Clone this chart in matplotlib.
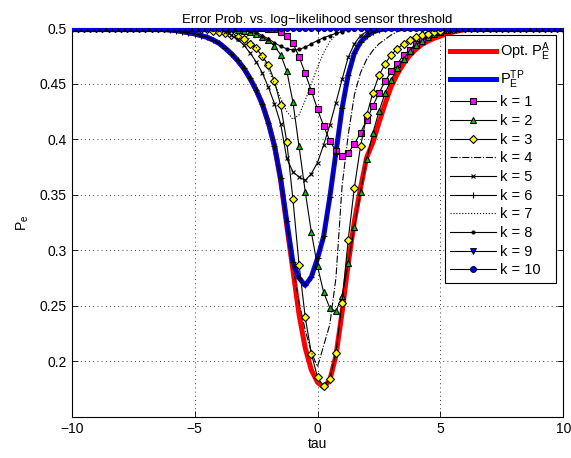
import numpy as np
import matplotlib
matplotlib.use("Agg")
import matplotlib.pyplot as plt

plt.rcParams['font.family'] = ['Liberation Sans', 'DejaVu Sans']
plt.rcParams['mathtext.fontset'] = 'custom'
plt.rcParams['mathtext.rm'] = 'Liberation Sans'
plt.rcParams['mathtext.it'] = 'Liberation Sans'

tau = np.arange(-10, 10.001, 0.25)

pe_opt = [0.5]*14 + [0.4995, 0.499, 0.4985, 0.498, 0.497, 0.496, 0.495, 0.4935, 0.492, 0.4895,
                     0.4865, 0.482, 0.477, 0.471, 0.464, 0.455, 0.4445, 0.432, 0.415, 0.394, 0.363,
                     0.322, 0.282, 0.242, 0.212, 0.192, 0.181, 0.1765, 0.183, 0.205, 0.244,
                     0.288, 0.326, 0.356, 0.3835, 0.397, 0.415, 0.432, 0.4475, 0.459, 0.468,
                     0.4755, 0.481, 0.4855, 0.4885, 0.491, 0.493, 0.495, 0.4965, 0.4978, 0.4988,
                     0.4995] + [0.5]*15

pe_tp = [0.5]*14 + [0.4995, 0.499, 0.4985, 0.498, 0.497, 0.496, 0.495, 0.4935, 0.492, 0.4895,
                    0.4865, 0.482, 0.477, 0.471, 0.464, 0.455, 0.4445, 0.432, 0.415, 0.394, 0.365,
                    0.326, 0.289, 0.275, 0.2683, 0.276, 0.2927, 0.3125, 0.3477, 0.388, 0.428,
                    0.458, 0.4777, 0.4876, 0.493, 0.4967, 0.4985, 0.4995] + [0.5]*29

k1 = [0.5]*32 + [0.4995, 0.499, 0.497, 0.493, 0.4865, 0.4744, 0.4594, 0.4437, 0.427, 0.412,
                 0.3986, 0.3895, 0.385, 0.3877, 0.3956, 0.4058, 0.4172, 0.430, 0.4416, 0.4522,
                 0.4612, 0.468, 0.4756, 0.4804, 0.4861, 0.4906, 0.494, 0.4965, 0.498, 0.499,
                 0.4995] + [0.5]*18

k2 = [0.5]*25 + [0.4995, 0.499, 0.4985, 0.498, 0.497, 0.495, 0.4919, 0.4892, 0.484, 0.4762,
                 0.4616, 0.4335, 0.3935, 0.3529, 0.3162, 0.2855, 0.262, 0.248, 0.2449, 0.2587,
                 0.2882, 0.3209, 0.3529, 0.3818, 0.4055, 0.4251, 0.4416, 0.4536, 0.4642, 0.4726,
                 0.4795, 0.485, 0.489, 0.4925, 0.495, 0.497, 0.4985, 0.4995] + [0.5]*18

k3 = [0.5]*21 + [0.4995, 0.499, 0.498, 0.497, 0.4955, 0.494, 0.4925, 0.4901, 0.4858, 0.482,
                 0.475, 0.4669, 0.4524, 0.4308, 0.3977, 0.3459, 0.287, 0.2397, 0.2067, 0.1856,
                 0.1774, 0.1841, 0.2076, 0.2527, 0.3096, 0.3565, 0.3935, 0.4215, 0.4419, 0.4576,
                 0.468, 0.4762, 0.4816, 0.4861, 0.4892, 0.4921, 0.4937, 0.495, 0.497, 0.498,
                 0.499, 0.4995] + [0.5]*18

k4 = [0.5]*14 + [0.4995, 0.499, 0.4985, 0.498, 0.497, 0.496, 0.495, 0.4935, 0.492, 0.4895,
                 0.4865, 0.482, 0.477, 0.471, 0.464, 0.455, 0.4445, 0.432, 0.415, 0.394, 0.364,
                 0.324, 0.285, 0.253, 0.228, 0.208, 0.195, 0.214, 0.233, 0.275, 0.358,
                 0.404, 0.44, 0.46, 0.472, 0.48, 0.486, 0.49, 0.494, 0.497, 0.4985,
                 0.4995] + [0.5]*25

k5 = [0.5]*23 + [0.4995, 0.4985, 0.497, 0.494, 0.49, 0.485, 0.478, 0.47, 0.46, 0.447,
                 0.432, 0.414, 0.3827, 0.3706, 0.366, 0.363, 0.369, 0.379, 0.395, 0.4127,
                 0.433, 0.454, 0.474, 0.486, 0.4935, 0.497, 0.499, 0.4995] + [0.5]*30

k6 = list(pe_tp)

k7 = [0.5]*26 + [0.4995, 0.498, 0.495, 0.49, 0.483, 0.474, 0.463, 0.45, 0.437, 0.425,
                 0.418, 0.422, 0.435, 0.45, 0.465, 0.478, 0.488, 0.494, 0.498, 0.4995] + [0.5]*35

k8 = [0.5]*28 + [0.4995, 0.498, 0.4965, 0.4935, 0.4905, 0.487, 0.4838, 0.4815, 0.4805, 0.481,
                 0.483, 0.486, 0.489, 0.4915, 0.4935, 0.4955, 0.497, 0.4985, 0.4995] + [0.5]*34

k9 = [0.5]*81
k10 = [0.5]*81

fig = plt.figure(figsize=(5.71, 4.58), dpi=100)
ax = fig.add_axes([0.1256, 0.0902, 0.8609, 0.848])

ax.plot(tau, pe_opt, color='#ff0000', lw=3.6, label=r'Opt. P$_E^A$', zorder=2)
ax.plot(tau, pe_tp, color='#0000ff', lw=3.6, label=r'P$_E^{TP}$', zorder=2)

lk = dict(color='k', lw=0.8, zorder=3)
ax.plot(tau, k1, marker='s', ms=4.3, mfc='#ff00ff', mec='k', mew=0.8, label='k = 1', **lk)
ax.plot(tau, k2, marker='^', ms=4.6, mfc='#00c000', mec='k', mew=0.8, label='k = 2', **lk)
ax.plot(tau, k3, marker='D', ms=4.3, mfc='#ffff00', mec='k', mew=0.8, label='k = 3', **lk)
ax.plot(tau, k4, ls='-.', label='k = 4', **lk)
ax.plot(tau, k5, marker='x', ms=3, mew=0.8, label='k = 5', **lk)
ax.plot(tau, k6, marker='+', ms=4, mew=0.8, label='k = 6', **lk)
ax.plot(tau, k7, ls=':', label='k = 7', **lk)
ax.plot(tau, k8, marker='.', ms=4, label='k = 8', **lk)
ax.plot(tau, k9, marker='v', ms=4.3, mfc='#0000ff', mec='k', mew=0.6, label='k = 9', **lk)
ax.plot(tau, k10, marker='o', ms=4.3, mfc='#0000ff', mec='k', mew=0.6, label='k = 10', **lk)

ax.set_xlim(-10, 10)
ax.set_ylim(0.15, 0.5)
ax.set_xticks([-10, -5, 0, 5, 10])
ax.set_xticklabels(['\u221210', '\u22125', '0', '5', '10'])
ax.set_yticks([0.2, 0.25, 0.3, 0.35, 0.4, 0.45, 0.5])
ax.set_yticklabels(['0.2', '0.25', '0.3', '0.35', '0.4', '0.45', '0.5'])
ax.tick_params(direction='in', top=True, right=True, labelsize=10, length=4, width=0.6)
ax.grid(True, ls=(0, (1, 4)), color='k', lw=0.6)
for s in ax.spines.values():
    s.set_linewidth(0.8)

ax.set_title('Error Prob. vs. log\u2212likelihood sensor threshold', fontsize=9.5, pad=4)
ax.set_xlabel('tau', fontsize=10, labelpad=1)
ax.set_ylabel(r'P$_e$', fontsize=10, labelpad=6)

leg = ax.legend(loc='upper right', bbox_to_anchor=(0.9855, 0.9827), fontsize=10.5,
                frameon=True, fancybox=False, edgecolor='k', framealpha=1,
                handlelength=3.1, handletextpad=0.3, labelspacing=0.32, borderpad=0.4,
                borderaxespad=0)
leg.get_frame().set_linewidth(0.8)
leg.set_zorder(10)

fig.savefig('out.png', dpi=100)
